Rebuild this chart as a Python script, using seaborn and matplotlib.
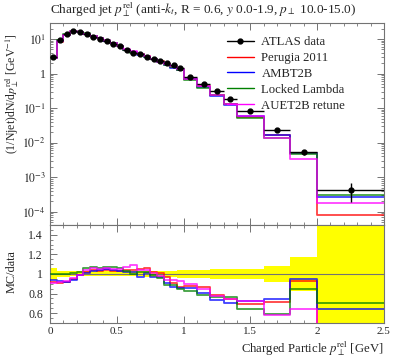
import math
import matplotlib
matplotlib.use("Agg")
import matplotlib.pyplot as plt
import seaborn as sns
from matplotlib.lines import Line2D
from matplotlib.ticker import FixedLocator, MultipleLocator, FuncFormatter, LogLocator, NullFormatter

sns.set_style("ticks")
plt.rcParams['font.family'] = ['Liberation Serif', 'DejaVu Serif']
plt.rcParams['mathtext.fontset'] = 'stix'
plt.rcParams['font.size'] = 9

# bin edges of p_T^rel [GeV]
edges = [0.0, 0.05, 0.1, 0.15, 0.2, 0.25, 0.3, 0.35, 0.4, 0.45, 0.5,
         0.55, 0.6, 0.65, 0.7, 0.75, 0.8, 0.85, 0.9, 0.95, 1.0,
         1.1, 1.2, 1.3, 1.4, 1.6, 1.8, 2.0, 2.5]

# ATLAS data (1/Njet dN/dprel)
data = [3.1, 9.3, 14.3, 17.3, 15.7, 13.7, 11.7, 10.2, 8.6, 7.3,
        6.1, 4.75, 4.0, 3.6, 3.0, 2.65, 2.26, 2.0, 1.72, 1.46,
        0.80, 0.50, 0.31, 0.178, 0.082, 0.023, 0.0054, 4.3e-4]
# relative data uncertainty
data_rel_err = [0.06, 0.035, 0.03, 0.025, 0.025, 0.025, 0.025, 0.025, 0.025, 0.025,
                0.025, 0.025, 0.025, 0.025, 0.03, 0.03, 0.03, 0.03, 0.035, 0.04,
                0.045, 0.045, 0.05, 0.05, 0.055, 0.08, 0.17, 0.55]

# MC / data ratios
ratio_perugia = [0.92, 0.905, 0.92, 0.945, 0.99, 1.024, 1.041, 1.034, 1.041, 1.034,
                 1.034, 1.041, 1.041, 1.048, 1.058, 1.024, 1.007, 0.966, 0.904, 0.870,
                 0.88, 0.87, 0.79, 0.74, 0.69, 0.716, 0.93, 0.19]
ratio_ambt2b = [0.94, 0.928, 0.921, 0.938, 0.99, 1.014, 1.034, 1.041, 1.048, 1.041,
                1.034, 1.024, 1.024, 0.973, 1.007, 0.973, 0.966, 0.904, 0.870, 0.853,
                0.86, 0.81, 0.73, 0.70, 0.72, 0.74, 0.95, 0.64]
ratio_locked = [1.0, 1.0, 0.997, 1.007, 1.02, 1.058, 1.068, 1.058, 1.068, 1.075,
                1.058, 1.034, 1.0, 1.024, 1.024, 0.99, 0.956, 0.887, 0.887, 0.843,
                0.83, 0.79, 0.76, 0.76, 0.64, 0.587, 0.846, 0.706]
ratio_auet2b = [0.905, 0.921, 0.932, 0.956, 0.99, 1.041, 1.058, 1.048, 1.058, 1.048,
                1.048, 1.075, 1.092, 1.041, 1.041, 1.007, 0.979, 0.938, 0.938, 0.932,
                0.90, 0.85, 0.78, 0.74, 0.72, 0.58, 0.645, 0.41]

mc = [("Perugia 2011", ratio_perugia, "#ff0000"),
      ("AMBT2B", ratio_ambt2b, "#0000ff"),
      ("Locked Lambda", ratio_locked, "#008000"),
      ("AUET2B retune", ratio_auet2b, "#ff00ff")]

centers = [(a + b) / 2 for a, b in zip(edges[:-1], edges[1:])]
halfw = [(b - a) / 2 for a, b in zip(edges[:-1], edges[1:])]
data_err = [d * e for d, e in zip(data, data_rel_err)]

fig = plt.figure(figsize=(3.97, 3.58), dpi=100)
ax = fig.add_axes([0.126, 0.3715, 0.841, 0.564])
rax = fig.add_axes([0.126, 0.0978, 0.841, 0.274], sharex=ax)

# ---- main panel
handles = [Line2D([], [], color='k', marker='o', ms=3.5, lw=1)]
labels = ["ATLAS data"]
for name, r, col in mc:
    vals = [d * x for d, x in zip(data, r)]
    sns.lineplot(x=edges, y=vals + [vals[-1]], ax=ax, color=col, lw=1.3,
                 alpha=0.75, drawstyle='steps-post', zorder=2)
    handles.append(Line2D([], [], color=col, lw=1))
    labels.append(name)
ax.errorbar(centers, data, xerr=halfw, yerr=data_err, fmt='o', color='k',
            ms=3.5, lw=1, capsize=0, zorder=3)

ax.set_yscale('log')
ax.set_xlim(0, 2.5)
ax.set_ylim(10 ** -4.38, 10 ** 1.46)
ax.yaxis.set_major_locator(LogLocator(base=10, numticks=20))
ax.yaxis.set_minor_locator(LogLocator(base=10, subs=range(2, 10), numticks=20))
ax.yaxis.set_minor_formatter(NullFormatter())
ax.yaxis.set_major_formatter(FuncFormatter(
    lambda v, p: "1" if abs(v - 1) < 1e-9 else r"$10^{%d}$" % round(math.log10(v))))
ax.set_ylabel("")
ax.set_xlabel("")

ax.legend(handles, labels, loc='upper left', bbox_to_anchor=(0.53, 0.935),
          frameon=False, fontsize=9.2, handlelength=2.1, handletextpad=0.6,
          labelspacing=0.3, borderpad=0, borderaxespad=0)

# ---- ratio panel
lo = [1 - e for e in data_rel_err]
hi = [1 + e for e in data_rel_err]
rax.fill_between(edges, lo + [lo[-1]], hi + [hi[-1]], step='post',
                 color='#ffff00', lw=0, zorder=1)
rax.axhline(1.0, color='0.45', lw=0.8, zorder=2)
for name, r, col in mc:
    sns.lineplot(x=edges, y=r + [r[-1]], ax=rax, color=col, lw=1.3,
                 alpha=0.75, drawstyle='steps-post', zorder=3)
rax.set_ylim(0.5, 1.5)
rax.yaxis.set_major_locator(FixedLocator([0.6, 0.8, 1.0, 1.2, 1.4]))
rax.yaxis.set_minor_locator(MultipleLocator(0.05))
rax.yaxis.set_major_formatter(FuncFormatter(lambda v, p: "%g" % v))
rax.xaxis.set_major_locator(MultipleLocator(0.5))
rax.xaxis.set_minor_locator(MultipleLocator(0.1))
rax.xaxis.set_major_formatter(FuncFormatter(lambda v, p: "%g" % v))
rax.set_xlabel("")
rax.set_ylabel("")

for a in (ax, rax):
    a.tick_params(which='both', direction='in', top=True, right=True,
                  color='0.45', labelsize=8.5)
    a.tick_params(which='major', length=5, width=0.7)
    a.tick_params(which='minor', length=2.5, width=0.6)
    for s in a.spines.values():
        s.set_color('0.45')
        s.set_linewidth(0.8)
ax.tick_params(axis='x', labelbottom=False)
ax.tick_params(axis='y', pad=3)
rax.tick_params(axis='y', pad=5)
rax.tick_params(axis='x', pad=3, labelsize=8)

fig.text(50 / 397, 1 - 10 / 358,
         r"Charged jet $p_\perp^{\rm rel}$ (anti-$k_t$, R = 0.6, $y$ 0.0-1.9, $p_\perp$ 10.0-15.0)",
         ha='left', va='center', fontsize=9.5)
fig.text(12 / 397, 1 - 33 / 358,
         r"(1/Njet)dN/d$p_\perp^{\rm rel}$ [GeV$^{-1}$]",
         rotation=90, ha='center', va='top', fontsize=8.5)
fig.text(12 / 397, 1 - 250 / 358, "MC/data", rotation=90, ha='center',
         va='top', fontsize=8.8)
fig.text(384 / 397, 1 - 349 / 358, r"Charged Particle $p_\perp^{\rm rel}$ [GeV]",
         ha='right', va='center', fontsize=9.2)

fig.savefig("out.png", dpi=100)
